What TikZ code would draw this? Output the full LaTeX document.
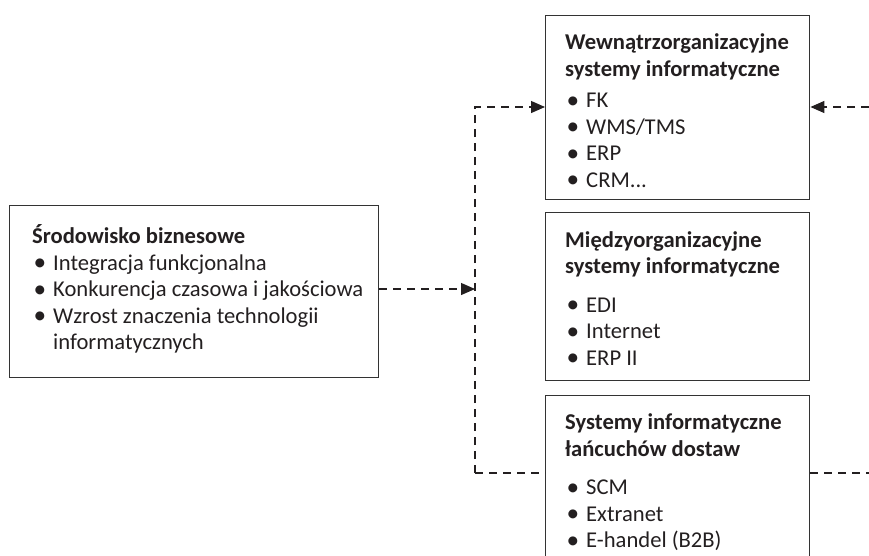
\documentclass[tikz,border=0pt]{standalone}
\usepackage{fontspec}
\setmainfont{Carlito}
\usetikzlibrary{arrows.meta}
\definecolor{ink}{HTML}{231F20}
\definecolor{frame}{HTML}{333333}
% bullet item and continuation line, each with a strut so lines are evenly spaced
\newcommand{\bul}{\raisebox{-0.6pt}{\scalebox{1.12}{•}}}
\newcommand{\itm}[1]{\strut\makebox[21pt][l]{\hspace{1.5pt}\bul}#1}
\newcommand{\cnt}[1]{\strut\hspace{21pt}#1}
\newcommand{\hd}[1]{\strut\textbf{#1}}
\begin{document}
\begin{tikzpicture}[x=1pt,y=-1pt,
  box/.style={draw=frame,line width=1.4pt,rectangle,inner sep=0pt,anchor=north west},
  txt/.style={inner sep=0pt,anchor=north west,align=left,text=ink,
    font=\fontsize{22.6}{26.5}\selectfont},
  link/.style={draw=ink,line width=1.2pt,dash pattern=on 8pt off 6pt},
  arr/.style={-{Triangle[length=14pt,width=12pt]}}]
\useasboundingbox (0,0) rectangle (869,555);

% left box: business environment
\node[box,minimum width=369pt,minimum height=172pt] (env) at (9,205) {};
\node[txt] (envt) at (32,224.5) {\hd{Środowisko biznesowe}\\
  \itm{Integracja funkcjonalna}\\
  \itm{Konkurencja czasowa i jakościowa}\\
  \itm{Wzrost znaczenia technologii}\\
  \cnt{informatycznych}};

% right column of boxes
\node[box,minimum width=264pt,minimum height=184pt] (intra) at (545,15) {};
\node[txt] (intrat) at (565,31) {\hd{Wewnątrzorganizacyjne}\\
  \hd{systemy informatyczne}\\[5pt]
  \itm{FK}\\ \itm{WMS/TMS}\\ \itm{ERP}\\ \itm{CRM...}};

\node[box,minimum width=264pt,minimum height=168pt] (inter) at (545,212) {};
\node[txt] (intert) at (565,228.5) {\hd{Międzyorganizacyjne}\\
  \hd{systemy informatyczne}\\[12pt]
  \itm{EDI}\\ \itm{Internet}\\ \itm{ERP II}};

\node[box,minimum width=264pt,minimum height=180pt] (scm) at (545,395) {};
\node[txt] (scmt) at (565,411) {\hd{Systemy informatyczne}\\
  \hd{łańcuchów dostaw}\\[12pt]
  \itm{SCM}\\ \itm{Extranet}\\ \itm{E-handel (B2B)}};

% junction points of the dashed links
\coordinate (jt) at (475,107);
\coordinate (jb) at (475,473);
\coordinate (rt) at (869,107);
\coordinate (rb) at (869,473);

\draw[link,arr] (env.east |- 0,289) -- (475,289);
\draw[link,arr] (jb) -- (jt) -- (jt -| intra.west);
\draw[link] (jb) -- (jb -| scm.west);
\draw[link,arr] (rt) -- (rt -| intra.east);
\draw[link] (rb -| scm.east) -- (rb);
\end{tikzpicture}
\end{document}
